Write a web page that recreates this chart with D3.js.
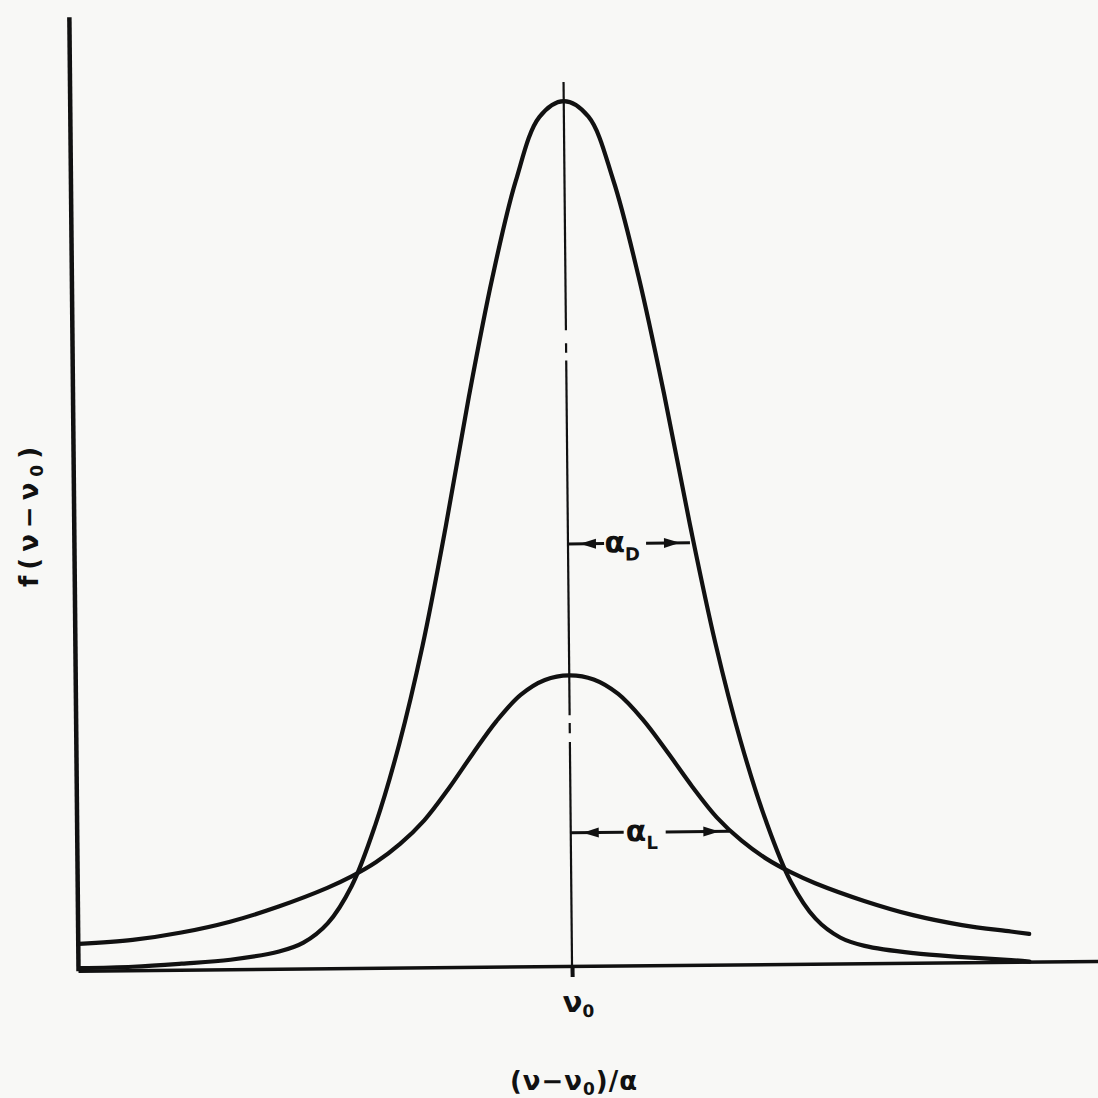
<!DOCTYPE html>
<html>
<head>
<meta charset="utf-8">
<script src="https://cdn.jsdelivr.net/npm/d3@7"></script>
<style>
  body { margin: 0; background: #f8f8f6; }
  svg { display: block; }
  text { font-family: "DejaVu Sans", sans-serif; font-weight: bold; fill: #111; }
</style>
</head>
<body>
<div id="svganchor"></div>
<script>
/*
------------------------------
METHOD: data (x in units of alpha_D, y relative to doppler peak)
------------------------------
*/
let dopplerX = [-4.04, -3.6, -3.2, -2.8, -2.4, -2.2, -2.0, -1.8, -1.6, -1.4, -1.2, -1.0, -0.8, -0.6, -0.4, -0.2, 0, 0.2, 0.4, 0.6, 0.8, 1.0, 1.2, 1.4, 1.6, 1.8, 2.0, 2.2, 2.4, 2.8, 3.2, 3.6, 3.75];
let dopplerY = [0.003, 0.004, 0.007, 0.011, 0.020, 0.030, 0.052, 0.095, 0.166, 0.258, 0.372, 0.510, 0.660, 0.796, 0.908, 0.982, 1.0, 0.982, 0.908, 0.796, 0.660, 0.510, 0.372, 0.258, 0.166, 0.095, 0.052, 0.030, 0.020, 0.011, 0.006, 0.002, 0.0];

let lorentzX = [-4.04, -3.6, -3.2, -2.8, -2.4, -2.0, -1.8, -1.6, -1.4, -1.2, -1.0, -0.8, -0.6, -0.4, -0.2, 0, 0.2, 0.4, 0.6, 0.8, 1.0, 1.2, 1.4, 1.6, 1.8, 2.0, 2.4, 2.8, 3.2, 3.6, 3.75];
let lorentzY = [0.031, 0.035, 0.043, 0.055, 0.072, 0.093, 0.106, 0.122, 0.143, 0.170, 0.206, 0.246, 0.284, 0.314, 0.331, 0.336, 0.331, 0.314, 0.284, 0.246, 0.206, 0.170, 0.143, 0.122, 0.106, 0.093, 0.072, 0.055, 0.043, 0.035, 0.032];

// centre line pieces (broken in the original print)
let centerPieces = [[1.022, 0.735], [0.720, 0.709], [0.700, 0.290], [0.281, 0.269], [0.259, -0.012]];

// half width markers
let widthY = [0.488, 0.154];
let widthX = [1.0, 1.30];
let widthSub = ["D", "L"];

let tickLabel = "ν";
let xTitle = "(ν−ν";
let yTitle = "f(ν−ν";

/*
------------------------------
METHOD: set the size of the canvas
------------------------------
*/
let width = 1098;
let height = 1098;

let svg = d3.select("#svganchor")
    .append("svg")
    .attr("width", width)
    .attr("height", height);

let xScale = d3.scaleLinear().domain([-4.05, 4.32]).range([78, 1099]);
let yScale = d3.scaleLinear().domain([0, 1.103]).range([966, 12]);

// the scanned figure sits a little crooked on the page
let plot = svg.append("g")
    .attr("transform", "rotate(-0.55," + xScale(0) + "," + yScale(0) + ")");

/*
------------------------------
METHOD: axes
------------------------------
*/
let xAxis = d3.axisBottom(xScale)
    .tickValues([0])
    .tickSize(11)
    .tickSizeOuter(0)
    .tickFormat(() => "");

let gx = plot.append("g")
    .attr("class", "x axis")
    .attr("transform", "translate(0," + yScale(0) + ")")
    .call(xAxis);
gx.select(".domain").attr("stroke", "#111").attr("stroke-width", 3.5);
gx.selectAll(".tick line").attr("stroke", "#111").attr("stroke-width", 4);

let yAxis = d3.axisLeft(yScale).ticks(0).tickSizeOuter(0);
let gy = plot.append("g")
    .attr("class", "y axis")
    .attr("transform", "translate(" + xScale.range()[0] + ",0)")
    .call(yAxis);
gy.select(".domain").attr("stroke", "#111").attr("stroke-width", 4.5);

// tick label nu_0
let tl = plot.append("text")
    .attr("x", xScale(0) + 6)
    .attr("y", yScale(0) + 46)
    .attr("text-anchor", "middle")
    .attr("font-size", 29)
    .text(tickLabel);
tl.append("tspan").attr("font-size", 17).attr("dy", 5).text("0");

/*
------------------------------
METHOD: centre line
------------------------------
*/
plot.selectAll(".center")
    .data(centerPieces)
    .enter()
    .append("line")
    .attr("class", "center")
    .attr("x1", xScale(0))
    .attr("x2", xScale(0))
    .attr("y1", d => yScale(d[0]))
    .attr("y2", d => yScale(d[1]))
    .attr("stroke", "#111")
    .attr("stroke-width", 2.2);

/*
------------------------------
METHOD: the two profiles
------------------------------
*/
let line = d3.line()
    .x(d => xScale(d[0]))
    .y(d => yScale(d[1]))
    .curve(d3.curveCatmullRom.alpha(0.5));

let profiles = [d3.zip(dopplerX, dopplerY), d3.zip(lorentzX, lorentzY)];

plot.selectAll(".profile")
    .data(profiles)
    .enter()
    .append("path")
    .attr("class", "profile")
    .attr("d", line)
    .attr("fill", "none")
    .attr("stroke", "#111")
    .attr("stroke-width", 4.2)
    .attr("stroke-linecap", "round")
    .attr("stroke-linejoin", "round");

/*
------------------------------
METHOD: half width markers
------------------------------
*/
widthY.forEach(function(yv, i) {
    let x0 = xScale(0);
    let x1 = xScale(widthX[i]);
    let y = yScale(yv);
    let mid = x0 + (x1 - x0) * 0.46;
    let g = plot.append("g");

    g.append("line").attr("x1", x0).attr("x2", mid - 20).attr("y1", y).attr("y2", y)
        .attr("stroke", "#111").attr("stroke-width", 3);
    g.append("line").attr("x1", mid + 22).attr("x2", x1).attr("y1", y).attr("y2", y)
        .attr("stroke", "#111").attr("stroke-width", 3);

    // arrow heads pointing out to the boundaries
    let ah = 16, aw = 5;
    let lt = x0 + 12, rt = x1 - 10;
    g.append("path")
        .attr("d", "M" + lt + "," + y + "L" + (lt + ah) + "," + (y - aw) + "L" + (lt + ah) + "," + (y + aw) + "Z")
        .attr("fill", "#111");
    g.append("path")
        .attr("d", "M" + rt + "," + y + "L" + (rt - ah) + "," + (y - aw) + "L" + (rt - ah) + "," + (y + aw) + "Z")
        .attr("fill", "#111");

    let t = g.append("text")
        .attr("x", mid - 2)
        .attr("y", y + 9)
        .attr("text-anchor", "middle")
        .attr("font-size", 30)
        .text("α");
    t.append("tspan").attr("font-size", 18).attr("dy", 8).text(widthSub[i]);
});

/*
------------------------------
METHOD: axis titles
------------------------------
*/
let xt = svg.append("text")
    .attr("x", 574)
    .attr("y", 1090)
    .attr("text-anchor", "middle")
    .attr("font-size", 26)
    .attr("letter-spacing", 1)
    .text(xTitle);
xt.append("tspan").attr("font-size", 17).attr("dy", 5).text("0");
xt.append("tspan").attr("dy", -5).text(")/α");

let yt = svg.append("text")
    .attr("transform", "translate(38,514) rotate(-90)")
    .attr("text-anchor", "middle")
    .attr("font-size", 26)
    .attr("letter-spacing", 6)
    .text(yTitle);
yt.append("tspan").attr("font-size", 17).attr("dy", 5).text("0");
yt.append("tspan").attr("dy", -5).text(")");
</script>
</body>
</html>
